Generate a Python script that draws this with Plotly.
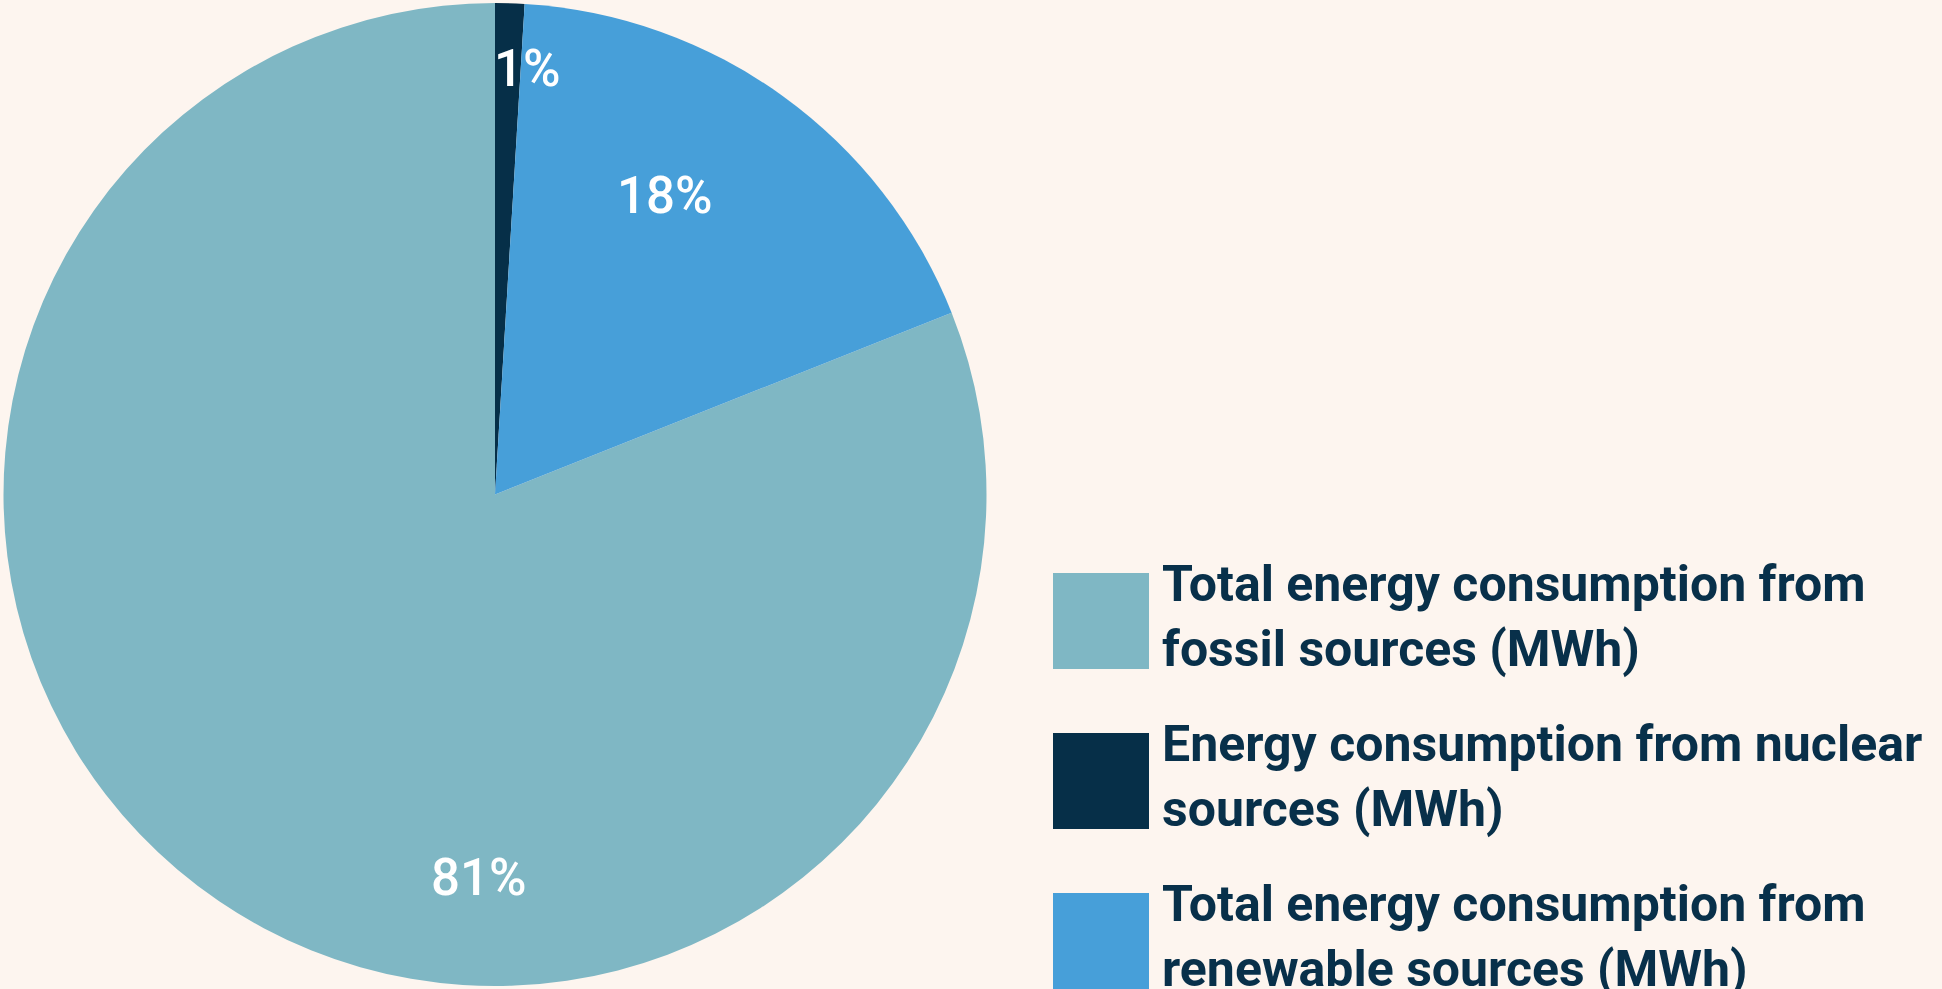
import math
import textwrap
import plotly.graph_objects as go

# ---- data ----
labels = [
    "Total energy consumption from fossil sources (MWh)",
    "Energy consumption from nuclear sources (MWh)",
    "Total energy consumption from renewable sources (MWh)",
]
values = [81.0, 0.96, 18.0]  # share of total energy consumption (%)
colors = ["#7FB7C4", "#062F48", "#479FD9"]

# ---- style / layout constants ----
BG = "#FDF5EF"
TEXT = "#08304A"
W, H = 1942, 989
PIE_TOP, PIE_BOTTOM = 3, 986          # pie domain in px
PIE_RIGHT = 990
# label placement inside the pie: (clock angle in degrees, fraction of radius)
label_polar = [(182.4, 0.78), (4.4, 0.87), (29.6, 0.70)]

total = sum(values)
rotation = 360.0 * (1 - values[0] / total)

fig = go.Figure(
    go.Pie(
        labels=labels,
        values=values,
        sort=False,
        direction="clockwise",
        rotation=rotation,
        marker=dict(colors=colors, line=dict(width=0)),
        textinfo="none",
        hoverinfo="label+value+percent",
        showlegend=False,
        domain=dict(x=[0, PIE_RIGHT / W], y=[1 - PIE_BOTTOM / H, 1 - PIE_TOP / H]),
    )
)

# pie geometry (px) for label placement
R = min(PIE_RIGHT, PIE_BOTTOM - PIE_TOP) / 2
cx, cy0 = PIE_RIGHT / 2, (PIE_TOP + PIE_BOTTOM) / 2

shapes = []
annotations = []

# percentage labels
for v, (ang, frac) in zip(values, label_polar):
    a = math.radians(ang)
    px = cx + frac * R * math.sin(a)
    py = cy0 - frac * R * math.cos(a)
    annotations.append(dict(
        xref="paper", yref="paper", x=px / W, y=1 - py / H,
        xanchor="center", yanchor="middle",
        text=f"{round(100 * v / total)}%", showarrow=False,
        font=dict(family="Roboto", size=51, weight=500, color="white"),
    ))

# legend drawn as large swatches
box = 96
x_box0 = 1053
x_text = 1160
first_center = 621
step = 160
for i, (lab, col) in enumerate(zip(labels, colors)):
    yc = first_center + i * step
    shapes.append(dict(
        type="rect", xref="paper", yref="paper",
        x0=x_box0 / W, x1=(x_box0 + box) / W,
        y0=1 - (yc + box / 2) / H, y1=1 - (yc - box / 2) / H,
        fillcolor=col, line=dict(width=0),
    ))
    annotations.append(dict(
        xref="paper", yref="paper", x=x_text / W, y=1 - (yc - 5) / H,
        xanchor="left", yanchor="middle", align="left",
        text="<br>".join(textwrap.wrap(lab, 31)),
        showarrow=False,
        font=dict(family="Roboto", size=50, weight=700, color=TEXT),
    ))

fig.update_layout(
    width=W, height=H,
    margin=dict(l=0, r=0, t=0, b=0),
    paper_bgcolor=BG, plot_bgcolor=BG,
    shapes=shapes, annotations=annotations,
)

fig.write_html("out.html")
